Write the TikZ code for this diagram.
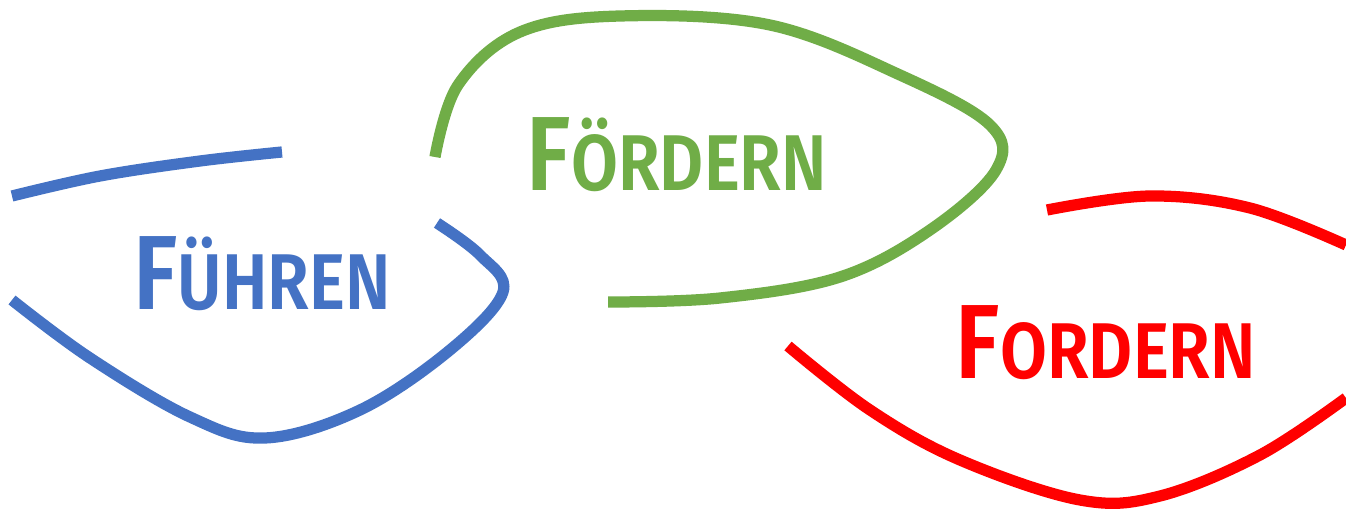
\documentclass[tikz,border=0pt]{standalone}
\usepackage{fontspec}
\setmainfont{Fira Sans}[BoldFont={Fira Sans SemiBold}]
\tikzset{
  every picture/.style={
    line width=6.4pt
  },
  stroke/.style={
    line join=round
  },
  word/.style={
    inner sep=0pt, font=\bfseries\fontsize{45}{50}\selectfont
  }
}
\definecolor{fblue}{HTML}{4472C4}
\definecolor{fgreen}{HTML}{70AD47}
\definecolor{fred}{HTML}{FF0000}
\newcommand{\initcap}[2]{\scalebox{0.86}[1]{{\fontsize{60}{64}\selectfont #1}#2}}

\begin{document}
\begin{tikzpicture}[x=0.02cm, y=-0.02cm]
      \fill[white] (0,0) rectangle (1346,513);
      \useasboundingbox (0,0) rectangle (1346,513);
      % blue
      \draw[stroke, fblue] plot[smooth, tension=0.6] coordinates {(12,196) (100,176) (200,161) (282,152)};
      \draw[stroke, fblue] plot[smooth, tension=0.6] coordinates {(12,300) (90,358) (190,417) (265,438) (360,410) (450,350) (503,292) (480,255) (437,223)};
      % green
      \draw[stroke, fgreen] plot[smooth, tension=0.6] coordinates {(435,157) (458,85) (520,32) (620,16) (770,25) (900,75) (990,125) (996,170) (930,230) (840,277) (720,298) (608,302)};
      % red
      \draw[stroke, fred] plot[smooth, tension=0.6] coordinates {(1047,210) (1150,196) (1250,208) (1346,245)};
      \draw[stroke, fred] plot[smooth, tension=0.6] coordinates {(788,346) (870,410) (960,460) (1080,500) (1160,496) (1260,455) (1346,398)};
      % words
      \node[word, fblue] (fuehren) at (262,274) {\initcap{F}{ÜHREN}};
      \node[word, fgreen] (foerdern) at (677,155) {\initcap{F}{ÖRDERN}};
      \node[word, fred] (fordern) at (1106,343) {\initcap{F}{ORDERN}};
\end{tikzpicture}
\end{document}
